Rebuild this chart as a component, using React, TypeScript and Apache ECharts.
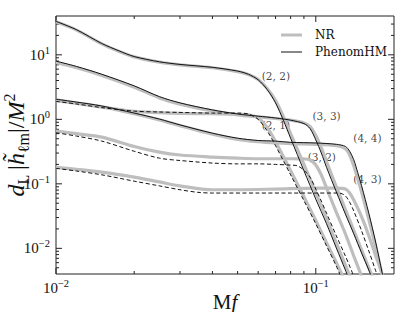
import React, { useEffect, useRef } from "react";
import * as echarts from "echarts";

// axis ranges
const X_MIN = 0.01;
const X_MAX = 0.2;
const Y_MIN = 0.004;
const Y_MAX = 40;

// tick values
const xMajorTicks = [0.01, 0.1];
const xMinorTicks = [0.02, 0.03, 0.04, 0.05, 0.06, 0.07, 0.08, 0.09];
const yMajorTicks = [0.01, 0.1, 1, 10];
const yMinorTicks = [
  0.005, 0.006, 0.007, 0.008, 0.009,
  0.02, 0.03, 0.04, 0.05, 0.06, 0.07, 0.08, 0.09,
  0.2, 0.3, 0.4, 0.5, 0.6, 0.7, 0.8, 0.9,
  2, 3, 4, 5, 6, 7, 8, 9,
  20, 30,
];

// NR curves [Mf, amplitude]
const nr22 = [
  [0.01, 32.5], [0.012, 24.2], [0.015, 14.8], [0.0175, 11.3], [0.02, 9.3], [0.025, 7.7], [0.03, 7.0],
  [0.04, 6.3], [0.05, 5.5], [0.055, 4.95], [0.06, 4.15], [0.065, 3.0], [0.07, 1.95], [0.075, 1.1],
  [0.08, 0.6], [0.09, 0.2], [0.1, 0.072], [0.11, 0.029], [0.12, 0.012], [0.13, 0.0055], [0.14, 0.0026],
];
const nr33 = [
  [0.01, 7.6], [0.012, 6.3], [0.015, 4.8], [0.02, 3.15], [0.025, 2.15], [0.03, 1.72], [0.04, 1.35],
  [0.05, 1.17], [0.06, 1.09], [0.07, 1.03], [0.08, 0.97], [0.09, 0.88], [0.095, 0.78], [0.1, 0.56],
  [0.105, 0.36], [0.11, 0.22], [0.12, 0.09], [0.13, 0.04], [0.14, 0.019], [0.15, 0.0095], [0.16, 0.005],
  [0.17, 0.0028],
];
const nr44 = [
  [0.01, 2.0], [0.012, 1.8], [0.015, 1.57], [0.02, 1.22], [0.025, 0.98], [0.03, 0.8], [0.04, 0.59],
  [0.05, 0.49], [0.06, 0.45], [0.07, 0.43], [0.08, 0.42], [0.1, 0.41], [0.12, 0.39], [0.13, 0.35],
  [0.135, 0.28], [0.14, 0.19], [0.145, 0.12], [0.15, 0.075], [0.16, 0.028], [0.17, 0.0105],
  [0.18, 0.0039],
];
const nr21 = [
  [0.01, 1.95], [0.012, 1.76], [0.015, 1.55], [0.02, 1.33], [0.025, 1.27], [0.03, 1.24], [0.04, 1.22],
  [0.05, 1.2], [0.055, 1.17], [0.06, 1.05], [0.065, 0.75], [0.07, 0.45], [0.08, 0.16], [0.09, 0.063],
  [0.1, 0.027], [0.11, 0.0122], [0.12, 0.006], [0.13, 0.003],
];
const nr32 = [
  [0.01, 0.66], [0.012, 0.6], [0.015, 0.53], [0.02, 0.38], [0.025, 0.31], [0.03, 0.28], [0.04, 0.26],
  [0.05, 0.25], [0.06, 0.245], [0.07, 0.245], [0.08, 0.245], [0.09, 0.243], [0.095, 0.236], [0.1, 0.196],
  [0.105, 0.137], [0.11, 0.086], [0.12, 0.036], [0.13, 0.0168], [0.14, 0.0076], [0.145, 0.0053],
  [0.15, 0.0037],
];
const nr43 = [
  [0.01, 0.18], [0.012, 0.168], [0.015, 0.152], [0.02, 0.127], [0.025, 0.107], [0.03, 0.093],
  [0.04, 0.081], [0.05, 0.081], [0.07, 0.083], [0.1, 0.086], [0.12, 0.086], [0.13, 0.083], [0.135, 0.072],
  [0.14, 0.056], [0.15, 0.031], [0.16, 0.0157], [0.17, 0.0077], [0.175, 0.0056], [0.18, 0.0039],
];

// PhenomHM curves [Mf, amplitude]
const hm22 = [
  [0.01, 33], [0.012, 24.5], [0.015, 15.0], [0.0175, 11.5], [0.02, 9.4], [0.025, 7.8], [0.03, 7.1],
  [0.04, 6.4], [0.05, 5.6], [0.055, 5.0], [0.06, 4.1], [0.065, 2.9], [0.07, 1.8], [0.075, 0.97],
  [0.08, 0.51], [0.09, 0.16], [0.1, 0.058], [0.11, 0.024], [0.12, 0.0101], [0.13, 0.0046], [0.135, 0.0031],
];
const hm33 = [
  [0.01, 8.0], [0.012, 6.6], [0.015, 5.0], [0.02, 3.3], [0.025, 2.25], [0.03, 1.8], [0.04, 1.4],
  [0.05, 1.21], [0.06, 1.12], [0.07, 1.05], [0.08, 0.97], [0.09, 0.86], [0.095, 0.72], [0.1, 0.48],
  [0.105, 0.3], [0.11, 0.18], [0.12, 0.075], [0.13, 0.034], [0.14, 0.0168], [0.15, 0.0085], [0.16, 0.0046],
  [0.165, 0.0033],
];
const hm44 = [
  [0.01, 2.05], [0.012, 1.85], [0.015, 1.61], [0.02, 1.25], [0.025, 1.01], [0.03, 0.82], [0.04, 0.61],
  [0.05, 0.51], [0.06, 0.47], [0.07, 0.46], [0.08, 0.44], [0.1, 0.43], [0.12, 0.41], [0.13, 0.38],
  [0.135, 0.32], [0.14, 0.236], [0.145, 0.15], [0.15, 0.094], [0.16, 0.035], [0.17, 0.0125],
  [0.18, 0.0042], [0.185, 0.0025],
];
const hm21 = [
  [0.01, 1.9], [0.012, 1.73], [0.015, 1.52], [0.02, 1.34], [0.025, 1.3], [0.03, 1.28], [0.04, 1.25],
  [0.05, 1.25], [0.055, 1.21], [0.06, 1.0], [0.065, 0.66], [0.07, 0.39], [0.08, 0.138], [0.09, 0.055],
  [0.1, 0.024], [0.11, 0.0109], [0.12, 0.0053], [0.125, 0.0036],
];
const hm32 = [
  [0.01, 0.62], [0.012, 0.55], [0.015, 0.46], [0.02, 0.32], [0.025, 0.25], [0.03, 0.23], [0.04, 0.21],
  [0.05, 0.204], [0.06, 0.204], [0.07, 0.2], [0.08, 0.195], [0.085, 0.19], [0.09, 0.163], [0.095, 0.127],
  [0.1, 0.083], [0.105, 0.054], [0.11, 0.035], [0.12, 0.0156], [0.13, 0.0076], [0.135, 0.0053],
  [0.14, 0.0037],
];
const hm43 = [
  [0.01, 0.174], [0.012, 0.158], [0.015, 0.138], [0.02, 0.11], [0.025, 0.093], [0.03, 0.081],
  [0.035, 0.074], [0.04, 0.072], [0.06, 0.072], [0.08, 0.072], [0.1, 0.072], [0.12, 0.072],
  [0.125, 0.071], [0.13, 0.065], [0.135, 0.052], [0.14, 0.038], [0.15, 0.0187], [0.16, 0.0091],
  [0.17, 0.0045], [0.175, 0.0032],
];

// mode labels [Mf, amplitude, text]
const modeLabels = [
  [0.0702, 4.69, "(2, 2)"],
  [0.11, 1.12, "(3, 3)"],
  [0.0702, 0.82, "(2, 1)"],
  [0.158, 0.513, "(4, 4)"],
  [0.1055, 0.26, "(3, 2)"],
  [0.158, 0.1186, "(4, 3)"],
];

const SERIF = "'Liberation Serif', 'DejaVu Serif', serif";
const LEG_FONT = "'DejaVu Serif', serif";

const powFmt = (v: number) => {
  const e = Math.log10(v);
  const r = Math.round(e);
  if (Math.abs(e - r) > 1e-6) return "";
  const ex = r < 0 ? "\u2212" + String(-r) : String(r);
  return `{b|10}{s|${ex}}`;
};

const tickRich = {
  b: { fontSize: 15, fontFamily: SERIF, color: "#111", lineHeight: 20 },
  s: { fontSize: 10.5, fontFamily: SERIF, color: "#111", verticalAlign: "top", lineHeight: 12 },
};

export default function App() {
  const ref = useRef<HTMLDivElement>(null);
  useEffect(() => {
    if (!ref.current) return;
    const chart = echarts.init(ref.current, null, { renderer: "svg" });

    const nrStyle = { color: "#bebebe", width: 3.2 };
    const hmStyle = { color: "#111", width: 1 };
    const hmDash = { color: "#111", width: 1, type: [4, 2.5] };

    const mk = (name: string, data: any, lineStyle: any) => ({
      type: "line",
      name,
      data,
      showSymbol: false,
      symbol: "none",
      smooth: 0.3,
      lineStyle,
      silent: true,
      clip: true,
    });

    const tickData: any[] = [];
    xMinorTicks.forEach((v) => tickData.push([v, Y_MIN, 0]));
    xMajorTicks.forEach((v) => tickData.push([v, Y_MIN, 2]));
    yMinorTicks.forEach((v) => tickData.push([X_MIN, v, 1]));
    yMajorTicks.forEach((v) => tickData.push([X_MIN, v, 3]));

    const legText = { fontFamily: LEG_FONT, fontSize: 12, color: "#111", padding: [0, 0, 0, 8] };

    const option: any = {
      animation: false,
      backgroundColor: "#fff",
      grid: {
        left: 56,
        right: 21,
        top: 16,
        bottom: 38,
        containLabel: false,
        outerBoundsMode: "none",
        show: true,
        borderColor: "#222",
        borderWidth: 1,
        backgroundColor: "transparent",
      },
      legend: [
        {
          orient: "vertical",
          left: 276,
          top: 24,
          itemWidth: 21,
          itemHeight: 3,
          data: [{ name: "NR", icon: "rect", itemStyle: { color: "#bebebe" } }],
          textStyle: legText,
          selectedMode: false,
        },
        {
          orient: "vertical",
          left: 276,
          top: 41,
          itemWidth: 21,
          itemHeight: 1,
          data: [{ name: "PhenomHM", icon: "rect", itemStyle: { color: "#111" } }],
          textStyle: legText,
          selectedMode: false,
        },
      ],
      xAxis: {
        type: "log",
        logBase: 10,
        min: X_MIN,
        max: X_MAX,
        axisLine: { show: false },
        axisTick: { show: false },
        splitLine: { show: false },
        axisLabel: { formatter: powFmt, rich: tickRich, margin: 4, showMinLabel: true, showMaxLabel: true },
        name: "{r|M}{i|f}",
        nameLocation: "middle",
        nameGap: 17,
        nameMoveOverlap: false,
        nameTextStyle: {
          rich: {
            r: { fontSize: 21, fontFamily: SERIF, color: "#111" },
            i: { fontSize: 21, fontFamily: SERIF, fontStyle: "italic", color: "#111" },
          },
        },
      },
      yAxis: {
        type: "log",
        logBase: 10,
        min: Y_MIN,
        max: Y_MAX,
        axisLine: { show: false },
        axisTick: { show: false },
        splitLine: { show: false },
        axisLabel: { formatter: powFmt, rich: tickRich, margin: 6 },
        name: "{i|d}{sub|L}{n|\u2009|}{i|h\u0303}{sub|\u2113m}{n||/}{i|M}{sup|2}",
        nameLocation: "middle",
        nameRotate: 90,
        nameGap: 25,
        nameMoveOverlap: false,
        nameTextStyle: {
          rich: {
            i: { fontSize: 24, fontFamily: SERIF, fontStyle: "italic", color: "#111", lineHeight: 30 },
            n: { fontSize: 24, fontFamily: SERIF, color: "#111", lineHeight: 30 },
            sub: { fontSize: 16, fontFamily: SERIF, color: "#111", verticalAlign: "bottom", lineHeight: 16 },
            sup: { fontSize: 16, fontFamily: SERIF, color: "#111", verticalAlign: "top", lineHeight: 16 },
          },
        },
      },
      series: [
        mk("NR", nr22, nrStyle),
        mk("NR", nr33, nrStyle),
        mk("NR", nr44, nrStyle),
        mk("NR", nr21, nrStyle),
        mk("NR", nr32, nrStyle),
        mk("NR", nr43, nrStyle),
        mk("PhenomHM", hm22, hmStyle),
        mk("PhenomHM", hm33, hmStyle),
        mk("PhenomHM", hm44, hmStyle),
        mk("PhenomHM", hm21, hmDash),
        mk("PhenomHM", hm32, hmDash),
        mk("PhenomHM", hm43, hmDash),
        {
          type: "scatter",
          name: "labels",
          data: modeLabels,
          symbolSize: 0,
          silent: true,
          label: {
            show: true,
            position: "inside",
            formatter: (p: any) => p.value[2],
            fontFamily: LEG_FONT,
            fontSize: 10.5,
            color: "#111",
          },
        },
        {
          type: "custom",
          name: "ticks",
          silent: true,
          data: tickData,
          renderItem: (params: any, api: any) => {
            const v0 = api.value(0);
            const v1 = api.value(1);
            const kind = api.value(2);
            const st = { stroke: "#222", lineWidth: 1 };
            if (kind === 0 || kind === 2) {
              const len = kind === 2 ? 6 : 3;
              const b = api.coord([v0, Y_MIN]);
              const t = api.coord([v0, Y_MAX]);
              return {
                type: "group",
                children: [
                  { type: "line", shape: { x1: b[0], y1: b[1], x2: b[0], y2: b[1] - len }, style: st },
                  { type: "line", shape: { x1: t[0], y1: t[1], x2: t[0], y2: t[1] + len }, style: st },
                ],
              };
            }
            const len = kind === 3 ? 6 : 3;
            const l = api.coord([X_MIN, v1]);
            const r = api.coord([X_MAX, v1]);
            return {
              type: "group",
              children: [
                { type: "line", shape: { x1: l[0], y1: l[1], x2: l[0] + len, y2: l[1] }, style: st },
                { type: "line", shape: { x1: r[0], y1: r[1], x2: r[0] - len, y2: r[1] }, style: st },
              ],
            };
          },
        },
      ],
    };
    chart.setOption(option);
    return () => chart.dispose();
  }, []);
  return (
    <div
      ref={ref}
      style={{ position: "fixed", left: 0, top: 0, width: 415, height: 312, background: "#fff" }}
    />
  );
}
